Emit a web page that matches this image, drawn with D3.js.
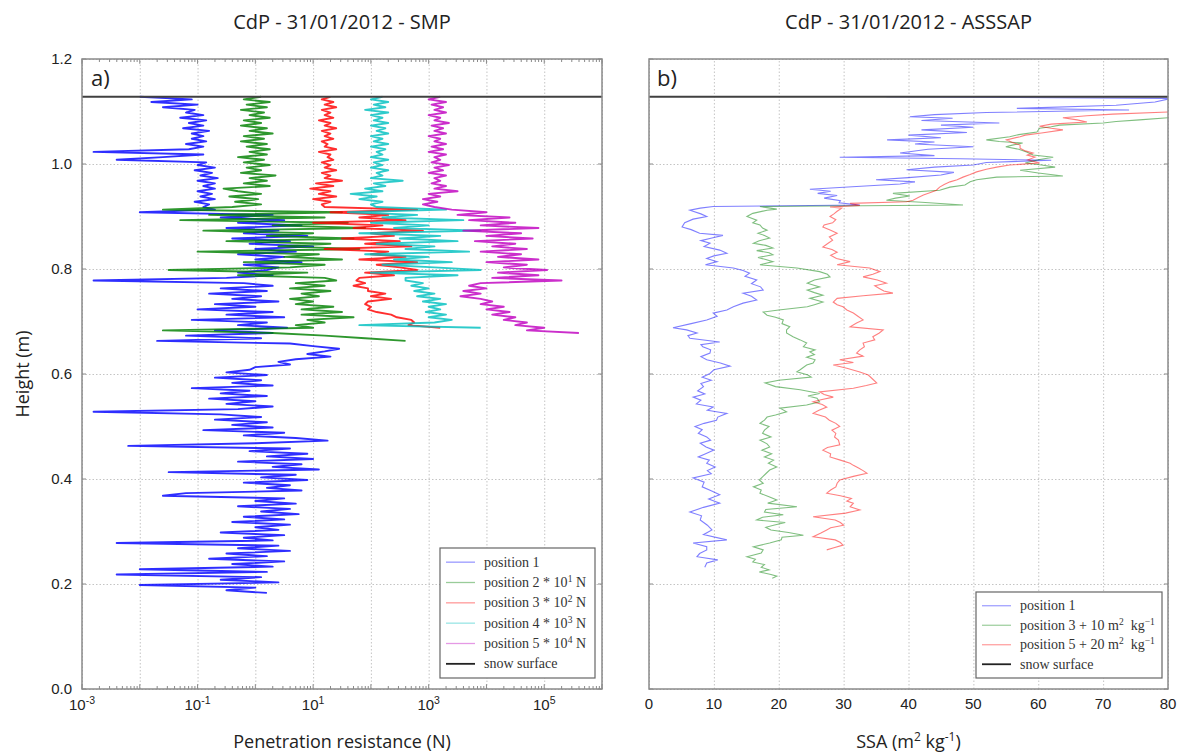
<!DOCTYPE html>
<html>
<head>
<meta charset="utf-8">
<script src="https://cdn.jsdelivr.net/npm/d3@7"></script>
<style>
  body { margin: 0; background: #fff; }
  svg { display: block; }
</style>
</head>
<body>
<svg id="chart" width="1180" height="753"></svg>
<script>

// ---- data ----------------------------------------------------------

// SMP profiles: log10 of penetration resistance (N), one value every 5 mm
// going down from the snow surface
const smpTopHeight = 1.128;
const smpStep = 0.005;

const smpLog1 = [
  -2.0,-1.1,-1.8,-1.0,-1.6,-1.05,
  -1.2,-0.9,-1.3,-0.85,-1.15,-0.9,-1.25,-0.8,-1.1,-0.9,
  -1.1,-0.85,-1.2,-0.9,-1.15,-2.8,-0.9,-1.6,-2.4,-0.85,
  -1.0,-0.7,-1.05,-0.75,-0.95,-0.65,-1.0,-0.7,-0.9,-0.7,
  -1.0,-0.75,-0.95,-0.7,-1.05,-0.8,
  -0.9,-0.7,-2.0,
  0.3,-0.6,0.5,-0.3,0.8,-0.5,0.4,-0.2,0.9,-0.4,0.6,-0.1,1.0,0.0,0.7,-0.3,0.5,0.0,0.8,-0.2,0.4,
  0.2,-0.3,0.3,-0.5,-2.8,
  -0.2,0.3,-0.6,0.2,-0.8,0.1,-0.4,0.4,-0.7,0.0,-1.0,0.3,-0.5,0.5,-1.1,0.2,-0.3,0.55,-0.7,0.3,-1.2,0.1,-1.7,
  0.6,1.0,1.45,1.2,0.9,1.3,0.7,0.4,0.6,0.0,
  -0.1,-0.5,0.2,-0.7,0.1,-0.4,0.3,-1.1,-0.1,-0.6,0.2,-0.8,0.0,-0.5,0.3,-0.3,-2.8,-0.6,0.1,-0.7,0.2,-0.4,0.3,-0.9,
  0.5,-0.2,0.7,1.25,0.0,-2.2,0.6,-0.1,0.9,0.2,
  1.0,-0.3,0.8,0.3,1.1,-1.5,0.7,0.1,0.9,-0.2,
  0.6,0.2,0.8,-1.2,-1.6,0.5,0.0,0.7,-0.3,0.6,
  0.1,0.75,-0.2,0.5,-0.4,0.6,0.0,0.4,-0.6,0.5,
  -0.2,0.3,-2.4,0.4,-0.3,0.6,-0.5,0.2,-0.8,0.5,
  -0.4,0.3,-2.0,0.2,-2.4,0.1,-0.6,0.4,-2.0,0.0,
  -0.5,0.2
];

const smpLog2 = [
  -0.9,-1.2,-0.75,-1.15,-0.8,-1.25,-0.85,-1.1,-0.75,-1.2,-0.9,-1.25,-0.8,-1.1,-0.7,-1.2,-0.85,-1.25,
  -0.8,-1.15,-0.75,-1.1,-0.8,-1.3,-0.85,-1.2,-0.75,-1.15,-0.9,-1.25,-0.65,-1.1,-0.8,-1.2,-0.75,-1.55,
  -1.3,-0.9,-1.45,-0.95,-1.35,-0.9,-1.4,
  -2.6,
  0.5,-1.8,0.2,-2.3,0.6,-0.7,0.9,-1.9,0.0,-0.8,0.7,-1.5,0.3,-0.6,0.8,-2.0,0.1,-0.5,0.5,-1.2,0.2,-0.4,
  -2.5,-0.1,-1.3,0.2,
  0.4,-0.3,0.2,-0.4,0.3,-0.2,0.1,-0.4,0.0,-0.3,0.35,-0.2,
  0.5,-0.2,0.7,-0.1,0.2,-0.3,0.0,-2.6,-0.7,0.2,0.9,1.6
];

const smpLog3 = [
  -0.7,-0.85,-0.65,-0.8,-0.6,-0.85,-0.7,-0.8,-0.65,-0.9,-0.7,-0.8,-0.6,-0.85,-0.7,-0.8,-0.65,-0.85,
  -0.75,-0.8,-0.6,-0.9,-0.7,-0.75,-0.65,-0.85,-0.7,-0.8,-0.6,-0.85,-0.7,-0.8,-0.5,-0.95,-0.65,-1.05,
  -0.7,-0.9,-0.6,-1.0,-0.7,-0.85,
  -0.8,
  0.8,-0.7,0.3,-0.2,0.6,-1.0,0.2,-0.3,0.9,0.0,0.4,-0.5,0.5,-0.1,0.7,-0.8,0.3,0.0,0.6,-0.2,0.8,0.1,0.5,
  0.8,-0.1,0.4,-0.2,
  -0.25,-0.1,-0.3,-0.05,-0.05,0.25,0.0,0.35,-0.05,-0.1,0.0,-0.05,0.1,0.35,0.45,0.7,0.75,0.65,1.2
];

const smpLog4 = [
  -0.8,-1.0,-0.7,-0.95,-0.75,-1.1,-0.7,-1.0,-0.8,-0.95,-0.7,-1.0,-0.75,-0.9,-0.7,-1.0,-0.8,-0.95,
  -0.7,-1.0,-0.75,-0.9,-0.8,-1.0,-0.7,-0.95,-0.8,-1.0,-0.7,-0.9,-0.8,-1.0,-0.45,-0.95,-0.75,-1.1,
  -0.8,-1.35,-0.9,-1.2,-0.8,-1.0,
  -0.9,
  0.3,-1.4,-0.2,-0.8,0.6,-1.0,0.0,-0.6,0.9,-1.2,0.2,-0.5,0.5,-0.9,0.1,-0.4,0.7,-1.1,0.0,-0.6,0.4,-0.8,0.1,
  0.9,-1.0,0.5,-0.4,
  -0.4,-0.1,-0.3,0.0,-0.25,0.1,-0.2,0.2,-0.1,0.3,0.0,0.2,-0.05,0.3,0.0,0.4,0.1,-1.2,0.9
];

const smpLog5 = [
  -0.8,-1.0,-0.7,-0.95,-0.75,-0.9,-0.7,-1.0,-0.8,-0.9,-0.65,-0.95,-0.75,-0.9,-0.7,-1.0,-0.8,-0.9,
  -0.7,-0.95,-0.75,-1.0,-0.7,-0.9,-0.8,-0.95,-0.65,-0.9,-0.75,-1.0,-0.7,-0.9,-0.8,-0.95,-0.7,-0.9,
  -0.5,-1.0,-0.8,-1.1,-0.85,-1.1,
  -0.9,
  -0.6,0.0,-0.5,0.4,-0.3,0.5,-0.1,0.9,-0.4,0.6,0.0,0.8,-0.2,0.5,0.1,0.7,-0.1,0.6,0.2,0.9,0.0,0.7,0.3,
  1.05,0.2,0.9,0.1,1.3,-0.1,
  -0.3,0.0,-0.4,-0.1,-0.45,-0.1,0.1,-0.1,0.3,0.0,0.4,0.1,0.5,0.3,0.7,0.5,1.0,0.7,1.6
];

// multiplication factor applied to each SMP position for display
const smpFactors = [1, 10, 100, 1000, 10000];
const smpColors = ["#0000ff", "#008000", "#ff0000", "#00bfbf", "#bf00bf"];

// ASSSAP profiles: [height (m), SSA (m2 kg-1)]
const ssaPos1 = [
  [1.128,36.6],[1.125,80.5],[1.118,78],[1.112,72],[1.106,56.7],[1.103,74],[1.098,52],[1.094,44],
  [1.09,40.2],[1.087,46.8],[1.083,42],[1.078,54],[1.074,45],[1.07,50],[1.065,42],[1.06,49],[1.055,40],
  [1.05,45],[1.046,36.7],[1.042,44],[1.038,41],[1.033,50],[1.028,43],[1.021,38.7],[1.016,44],
  [1.013,29.4],[1.01,48],[1.007,62],[1.003,52],[0.998,50],[0.994,44],[0.989,39.7],[0.984,47],
  [0.979,45],[0.974,40],[0.97,35],[0.966,41],[0.962,38.7],[0.957,32],[0.952,24.8],[0.948,28],
  [0.944,26],[0.94,29],[0.935,27],[0.93,29.5],[0.926,29.3],[0.922,32.5],[0.919,9.9],[0.916,7.9],
  [0.912,6.3],[0.905,8.0],[0.9,8.9],[0.895,6.8],[0.888,5.5],[0.88,5.1],[0.875,6.5],[0.868,7.8],
  [0.864,11.4],[0.859,9.7],[0.854,8.0],[0.849,9.4],[0.843,8.5],[0.836,10.9],[0.83,12],[0.825,10],
  [0.82,8.9],[0.814,10.5],[0.808,8.7],[0.802,13],[0.797,14.5],[0.792,15.5],[0.786,14.8],[0.779,16.6],
  [0.772,15.8],[0.766,17.2],[0.76,17.6],[0.754,14.5],[0.748,15.8],[0.741,16.6],[0.735,14.5],[0.728,13],
  [0.722,12],[0.716,9.9],[0.71,10.5],[0.703,8.9],[0.696,6.5],[0.688,3.7],[0.684,5.8],[0.678,7.4],
  [0.673,6.0],[0.668,6.3],[0.661,10.9],[0.656,8.0],[0.652,8.3],[0.646,9.5],[0.64,9.4],[0.633,8.0],
  [0.627,8.9],[0.621,11],[0.615,12.5],[0.608,10],[0.601,9.4],[0.594,8.2],[0.588,9.6],[0.582,8.0],
  [0.576,8.4],[0.568,7.5],[0.562,8.6],[0.556,6.8],[0.55,8.0],[0.543,7.3],[0.537,9.9],[0.531,9.0],
  [0.525,12],[0.518,10.6],[0.512,10.4],[0.506,8.5],[0.5,7.1],[0.494,8.2],[0.487,7.6],[0.48,8.9],
  [0.474,9.5],[0.468,7.9],[0.461,8.8],[0.455,10.0],[0.449,8.9],[0.442,7.6],[0.436,9.3],[0.43,8.9],
  [0.423,10.2],[0.416,9.0],[0.41,9.6],[0.402,6.8],[0.394,8.5],[0.385,8.2],[0.378,9.5],[0.37,10.9],
  [0.362,9.2],[0.354,10.9],[0.346,8.4],[0.337,6.3],[0.33,8.1],[0.322,7.9],[0.312,9.0],[0.303,9.7],
  [0.294,8.4],[0.284,12],[0.278,6.8],[0.271,8.9],[0.265,8.9],[0.258,7.8],[0.252,7.4],[0.246,10.6],
  [0.24,8.9],[0.232,8.6]
];

const ssaPos3 = [
  [1.09,72],[1.088,70],[1.084,65.6],[1.081,62],[1.078,60],[1.074,53.3],[1.071,52],[1.068,50.2],
  [1.061,49.8],[1.056,47],[1.052,45.6],[1.046,42],[1.043,44],[1.04,47.6],[1.036,46],[1.033,45],
  [1.028,47],[1.023,48.2],[1.017,49.2],[1.013,52.3],[1.008,50],[1.002,48],[0.998,50.5],[0.994,52.6],
  [0.988,47.2],[0.983,50],[0.977,53.8],[0.975,43.6],[0.97,40.5],[0.966,39.5],[0.96,38.7],[0.956,36.4],
  [0.95,34.8],[0.944,27.6],[0.939,30.2],[0.935,28],[0.931,26.6],[0.927,32],[0.922,38.4],[0.919,7.1],
  [0.914,9.7],[0.912,8.2],[0.906,6],[0.9,5.1],[0.893,6.6],[0.888,6],[0.884,7.1],[0.878,7.5],
  [0.874,8.2],[0.868,6.8],[0.864,7.8],[0.859,8.6],[0.854,7],[0.849,6.1],[0.845,8],[0.84,9.1],
  [0.835,6.6],[0.831,8.5],[0.827,9.1],[0.822,6.8],[0.818,8],[0.814,9.1],[0.808,7.1],[0.802,12.8],
  [0.795,16.3],[0.79,17.5],[0.785,17.9],[0.779,15.5],[0.773,14.4],[0.766,16.3],[0.76,14.4],[0.755,15.5],
  [0.75,16.8],[0.744,14.8],[0.737,16.8],[0.732,15.5],[0.728,14.4],[0.722,10],[0.718,7.6],[0.712,8.2],
  [0.708,9.5],[0.703,10.7],[0.696,10.5],[0.69,11.7],[0.684,11.2],[0.678,11.2],[0.671,12.2],[0.665,13.3],
  [0.659,14.3],[0.652,13.8],[0.646,15.6],[0.642,14.8],[0.637,15.5],[0.632,14.3],[0.627,15.6],[0.621,15.3],
  [0.617,14.3],[0.608,13.3],[0.604,12.8],[0.598,14.5],[0.594,15],[0.588,10],[0.583,7.9],[0.576,9.5],
  [0.57,13.3],[0.563,16.3],[0.558,14.5],[0.554,15.9],[0.547,16.3],[0.541,14.3],[0.535,10.2],[0.528,11.2],
  [0.522,9.5],[0.518,8.2],[0.512,7.8],[0.506,7.1],[0.5,8.5],[0.493,7.8],[0.487,7.5],[0.48,8.8],
  [0.474,7.1],[0.467,8.2],[0.461,8.6],[0.455,7.4],[0.448,8.9],[0.442,7.8],[0.436,9.2],[0.43,8.4],
  [0.423,9.7],[0.417,8.6],[0.41,8],[0.404,7.5],[0.398,7],[0.392,7.6],[0.385,6.1],[0.379,7.3],
  [0.373,7.1],[0.366,8.5],[0.36,9.7],[0.354,8.3],[0.347,12.8],[0.342,8],[0.337,7.8],[0.332,10.7],
  [0.327,7.5],[0.322,6.6],[0.317,11],[0.312,9.2],[0.308,8],[0.303,8.8],[0.298,11.5],[0.293,13.8],
  [0.289,10.5],[0.284,10.4],[0.278,8.6],[0.271,6.1],[0.265,7.6],[0.259,7.3],[0.252,5.1],[0.247,6.4],
  [0.242,6],[0.237,7.8],[0.232,7.3],[0.227,8.5],[0.223,7],[0.218,8.8],[0.215,9.7],[0.211,9]
];

const ssaPos5 = [
  [1.1,62],[1.099,60],[1.095,51.5],[1.092,47.5],[1.088,43.8],[1.084,46],[1.08,47.5],[1.076,42],
  [1.072,40.2],[1.068,42],[1.065,43.8],[1.059,40.5],[1.055,38],[1.052,37.2],[1.046,35.1],[1.041,36],
  [1.036,37.2],[1.03,37.2],[1.025,38],[1.021,39.2],[1.017,38.3],[1.013,39.5],[1.008,38.4],[1.002,40.2],
  [0.998,35.6],[0.994,33.6],[0.99,32],[0.985,30.5],[0.98,29.5],[0.975,28.4],[0.97,27.5],[0.966,26.4],
  [0.961,25.5],[0.956,24.8],[0.95,24.3],[0.946,23.5],[0.941,22.3],[0.936,21.5],[0.931,20.7],[0.928,19.7],
  [0.925,11],[0.921,12.5],[0.918,7.9],[0.916,9.7],[0.91,9],[0.905,8.5],[0.9,7.9],[0.894,8.8],
  [0.888,8.3],[0.884,7],[0.88,6.8],[0.874,8],[0.868,9],[0.861,7.8],[0.855,8.3],[0.848,7.5],
  [0.842,6.8],[0.837,8.2],[0.832,9],[0.826,8],[0.82,8.9],[0.814,11],[0.808,9],[0.802,14],
  [0.795,15.6],[0.79,14.5],[0.785,13],[0.779,15.2],[0.773,16.6],[0.768,14.8],[0.763,15.5],[0.758,16.2],
  [0.754,17.6],[0.749,13],[0.744,9],[0.737,8.4],[0.732,9],[0.728,9.9],[0.722,10.5],[0.716,11.5],
  [0.71,12.2],[0.703,13],[0.697,12],[0.69,11],[0.684,16.1],[0.678,15.5],[0.671,14.5],[0.665,14.8],
  [0.659,13],[0.652,13.2],[0.646,12.5],[0.64,12],[0.634,13],[0.627,9.4],[0.622,11.5],[0.617,8.4],
  [0.611,10.5],[0.604,12.5],[0.598,13.8],[0.59,14.5],[0.583,15.1],[0.578,13.5],[0.573,11.5],[0.566,6.3],
  [0.561,7],[0.556,8.4],[0.551,6.5],[0.547,5.3],[0.542,6.7],[0.537,7.4],[0.531,6.2],[0.525,5.3],
  [0.518,7.2],[0.512,7.8],[0.506,8.8],[0.5,9.4],[0.493,8.2],[0.487,8.8],[0.48,8.6],[0.474,9.2],
  [0.465,9.4],[0.46,7.5],[0.455,6.8],[0.448,8],[0.442,7.9],[0.436,9.5],[0.43,11],[0.426,11.5],
  [0.421,12.3],[0.416,13],[0.411,13.6],[0.405,11.5],[0.398,9.4],[0.392,9],[0.385,8.8],[0.379,8],
  [0.373,7.4],[0.368,9.5],[0.363,11.2],[0.358,10.5],[0.354,11.5],[0.347,11],[0.341,12.5],[0.335,10.3],
  [0.328,5.3],[0.322,8.7],[0.317,9.5],[0.312,10],[0.307,8],[0.303,7.4],[0.297,6.5],[0.29,5.3],
  [0.284,8.7],[0.279,9.5],[0.274,9.9],[0.269,8.5],[0.265,7.4]
];

// offsets added to the ASSSAP positions for display
const ssaOffsets = [0, 10, 20];
const ssaColors = ["#0000ff", "#008000", "#ff0000"];

const snowSurface = 1.128;

// axis ticks
const heightTicks = [0, 0.2, 0.4, 0.6, 0.8, 1.0, 1.2];
const resDecades = [-3, -2, -1, 0, 1, 2, 3, 4, 5, 6];
const resLabelExp = [-3, -1, 1, 3, 5];
const ssaTicks = [0, 10, 20, 30, 40, 50, 60, 70, 80];

// ---- layout --------------------------------------------------------

const svg = d3.select("#chart");
const plotTop = 59, plotBottom = 689;
const panelA = {left: 82, right: 602};
const panelB = {left: 649, right: 1168};

const sansFont = "'Liberation Sans', Arial, sans-serif";
const titleFont = "'Open Sans', 'Noto Sans', sans-serif";
const legendFont = "'Liberation Serif', 'DejaVu Serif', serif";

const y = d3.scaleLinear().domain([0, 1.2]).range([plotBottom, plotTop]);
const xA = d3.scaleLog().domain([1e-3, 1e6]).range([panelA.left, panelA.right]);
const xB = d3.scaleLinear().domain([0, 80]).range([panelB.left, panelB.right]);

const defs = svg.append("defs");

/* 枠、格子を描く */
function drawFrame(panel, x, gridVals, id) {
  const w = panel.right - panel.left;
  const h = plotBottom - plotTop;

  defs.append("clipPath").attr("id", id)
    .append("rect")
    .attr("x", panel.left).attr("y", plotTop)
    .attr("width", w).attr("height", h);

  const g = svg.append("g");

  // vertical grid
  g.append("g")
    .attr("transform", `translate(0,${plotBottom})`)
    .call(d3.axisBottom(x).tickValues(gridVals).tickSize(-h).tickFormat(""))
    .call(a => a.select(".domain").remove())
    .selectAll("line")
    .attr("stroke", "#c4c4c4")
    .attr("stroke-dasharray", "1.5,2");

  // horizontal grid
  g.append("g")
    .attr("transform", `translate(${panel.left},0)`)
    .call(d3.axisLeft(y).tickValues(heightTicks).tickSize(-w).tickFormat(""))
    .call(a => a.select(".domain").remove())
    .selectAll("line")
    .attr("stroke", "#c4c4c4")
    .attr("stroke-dasharray", "1.5,2");

  return g;
}

drawFrame(panelA, xA, resDecades.map(e => Math.pow(10, e)), "clipA");
drawFrame(panelB, xB, ssaTicks, "clipB");

// ---- panel a: SMP --------------------------------------------------

const lineA = d3.line()
  .x(d => xA(d.v))
  .y(d => y(d.h));

const smpLogs = [smpLog1, smpLog2, smpLog3, smpLog4, smpLog5];
const gA = svg.append("g").attr("clip-path", "url(#clipA)");

smpLogs.forEach((vals, k) => {
  const pts = vals.map((v, i) => ({
    h: smpTopHeight - i * smpStep,
    v: Math.pow(10, v) * smpFactors[k]
  }));
  gA.append("path")
    .datum(pts)
    .attr("d", lineA)
    .attr("fill", "none")
    .attr("stroke", smpColors[k])
    .attr("stroke-width", 1.9)
    .attr("stroke-opacity", 0.82)
    .attr("stroke-linejoin", "round");
});

// ---- panel b: ASSSAP -----------------------------------------------

const lineB = d3.line()
  .x(d => xB(d.v))
  .y(d => y(d.h));

const ssaProfiles = [ssaPos1, ssaPos3, ssaPos5];
const gB = svg.append("g").attr("clip-path", "url(#clipB)");

ssaProfiles.forEach((prof, k) => {
  const pts = prof.map(p => ({h: p[0], v: p[1] + ssaOffsets[k]}));
  gB.append("path")
    .datum(pts)
    .attr("d", lineB)
    .attr("fill", "none")
    .attr("stroke", ssaColors[k])
    .attr("stroke-width", 1.1)
    .attr("stroke-opacity", 0.5);
});

// ---- frames, snow surface, ticks ----------------------------------

[panelA, panelB].forEach(p => {
  svg.append("line")
    .attr("x1", p.left).attr("x2", p.right)
    .attr("y1", y(snowSurface)).attr("y2", y(snowSurface))
    .attr("stroke", "#404040")
    .attr("stroke-width", 2);

  svg.append("rect")
    .attr("x", p.left).attr("y", plotTop)
    .attr("width", p.right - p.left).attr("height", plotBottom - plotTop)
    .attr("fill", "none")
    .attr("stroke", "#8a8a8a")
    .attr("stroke-width", 1.5);

  // inner ticks on the height axis, both sides
  heightTicks.forEach(t => {
    [[p.left, 4], [p.right, -4]].forEach(([x0, d]) => {
      svg.append("line")
        .attr("x1", x0).attr("x2", x0 + d)
        .attr("y1", y(t)).attr("y2", y(t))
        .attr("stroke", "#8a8a8a");
    });
  });
});

// minor ticks of the log axis
const minorTicks = xA.ticks().filter(v => Math.abs(Math.log10(v) - Math.round(Math.log10(v))) > 1e-6);
[[plotBottom, -3], [plotTop, 3]].forEach(([y0, d]) => {
  svg.append("g")
    .selectAll("line")
    .data(minorTicks)
    .join("line")
    .attr("x1", v => xA(v)).attr("x2", v => xA(v))
    .attr("y1", y0).attr("y2", y0 + d)
    .attr("stroke", "#8a8a8a");
  svg.append("g")
    .selectAll("line")
    .data(resDecades)
    .join("line")
    .attr("x1", e => xA(Math.pow(10, e))).attr("x2", e => xA(Math.pow(10, e)))
    .attr("y1", y0).attr("y2", y0 + 1.6 * d)
    .attr("stroke", "#8a8a8a");
});

// ---- tick labels ---------------------------------------------------

svg.append("g")
  .selectAll("text")
  .data(heightTicks)
  .join("text")
  .attr("x", 72)
  .attr("y", d => y(d))
  .attr("dy", "0.35em")
  .attr("text-anchor", "end")
  .attr("font-family", sansFont)
  .attr("font-size", 15)
  .attr("fill", "#222")
  .text(d => d.toFixed(1));

const resLab = svg.append("g")
  .selectAll("text")
  .data(resLabelExp)
  .join("text")
  .attr("x", e => xA(Math.pow(10, e)))
  .attr("y", 710)
  .attr("text-anchor", "middle")
  .attr("font-family", sansFont)
  .attr("font-size", 15)
  .attr("fill", "#222");
resLab.append("tspan").text("10");
resLab.append("tspan")
  .attr("dy", -6)
  .attr("font-size", 10.5)
  .text(e => e < 0 ? "-" + (-e) : String(e));

svg.append("g")
  .selectAll("text")
  .data(ssaTicks)
  .join("text")
  .attr("x", d => xB(d))
  .attr("y", 709)
  .attr("text-anchor", "middle")
  .attr("font-family", sansFont)
  .attr("font-size", 15)
  .attr("fill", "#222")
  .text(d => d);

// ---- titles and axis labels ----------------------------------------

const midA = (panelA.left + panelA.right) / 2;
const midB = (panelB.left + panelB.right) / 2;

svg.append("text")
  .attr("x", midA).attr("y", 29)
  .attr("text-anchor", "middle")
  .attr("font-family", titleFont).attr("font-size", 20)
  .attr("fill", "#222")
  .text("CdP - 31/01/2012 - SMP");

svg.append("text")
  .attr("x", midB).attr("y", 29)
  .attr("text-anchor", "middle")
  .attr("font-family", titleFont).attr("font-size", 20)
  .attr("fill", "#222")
  .text("CdP - 31/01/2012 - ASSSAP");

svg.append("text")
  .attr("x", 91).attr("y", 86)
  .attr("font-family", titleFont).attr("font-size", 22)
  .attr("fill", "#222")
  .text("a)");

svg.append("text")
  .attr("x", 657).attr("y", 86)
  .attr("font-family", titleFont).attr("font-size", 22)
  .attr("fill", "#222")
  .text("b)");

svg.append("text")
  .attr("x", midA).attr("y", 748)
  .attr("text-anchor", "middle")
  .attr("font-family", titleFont).attr("font-size", 18)
  .attr("fill", "#222")
  .text("Penetration resistance (N)");

const ssaLabel = svg.append("text")
  .attr("x", midB).attr("y", 748)
  .attr("text-anchor", "middle")
  .attr("font-family", titleFont).attr("font-size", 18)
  .attr("fill", "#222");
ssaLabel.append("tspan").text("SSA (m");
ssaLabel.append("tspan").attr("dy", -7).attr("font-size", 12).text("2");
ssaLabel.append("tspan").attr("dy", 7).text(" kg");
ssaLabel.append("tspan").attr("dy", -7).attr("font-size", 12).text("-1");
ssaLabel.append("tspan").attr("dy", 7).text(")");

svg.append("text")
  .attr("transform", `translate(29,${(plotTop + plotBottom) / 2}) rotate(-90)`)
  .attr("text-anchor", "middle")
  .attr("font-family", titleFont).attr("font-size", 18)
  .attr("fill", "#222")
  .text("Height (m)");

// ---- legends -------------------------------------------------------

/* 凡例を描く */
function drawLegend(x0, y0, w, h, rows, sampleW, textX) {
  const g = svg.append("g");
  g.append("rect")
    .attr("x", x0).attr("y", y0)
    .attr("width", w).attr("height", h)
    .attr("fill", "#fff")
    .attr("stroke", "#666")
    .attr("stroke-width", 1.2);
  const rowH = (h - 8) / rows.length;
  rows.forEach((r, i) => {
    const yy = y0 + 4 + rowH * (i + 0.5);
    g.append("line")
      .attr("x1", x0 + 6).attr("x2", x0 + 6 + sampleW)
      .attr("y1", yy).attr("y2", yy)
      .attr("stroke", r.color)
      .attr("stroke-opacity", r.opacity)
      .attr("stroke-width", r.width);
    const t = g.append("text")
      .attr("x", x0 + textX).attr("y", yy + 4.5)
      .attr("font-family", legendFont)
      .attr("font-size", 14)
      .attr("fill", "#333");
    r.parts.forEach(p => {
      const sp = t.append("tspan").text(p[0]);
      if (p[1] === "sup") sp.attr("dy", -5).attr("font-size", 9.5);
      if (p[1] === "down") sp.attr("dy", 5);
    });
  });
}

const legendA = [
  {color: smpColors[0], opacity: 0.4, width: 1.3, parts: [["position 1"]]},
  {color: smpColors[1], opacity: 0.4, width: 1.3, parts: [["position 2 * 10"], ["1", "sup"], [" N", "down"]]},
  {color: smpColors[2], opacity: 0.4, width: 1.3, parts: [["position 3 * 10"], ["2", "sup"], [" N", "down"]]},
  {color: smpColors[3], opacity: 0.4, width: 1.3, parts: [["position 4 * 10"], ["3", "sup"], [" N", "down"]]},
  {color: smpColors[4], opacity: 0.4, width: 1.3, parts: [["position 5 * 10"], ["4", "sup"], [" N", "down"]]},
  {color: "#222", opacity: 1, width: 1.8, parts: [["snow surface"]]}
];
drawLegend(440, 548, 155, 130, legendA, 29, 44);

const legendB = [
  {color: ssaColors[0], opacity: 0.4, width: 1.2, parts: [["position 1"]]},
  {color: ssaColors[1], opacity: 0.4, width: 1.2,
    parts: [["position 3 + " + ssaOffsets[1] + " m"], ["2", "sup"], ["\u00a0\u00a0kg", "down"], ["\u22121", "sup"]]},
  {color: ssaColors[2], opacity: 0.4, width: 1.2,
    parts: [["position 5 + " + ssaOffsets[2] + " m"], ["2", "sup"], ["\u00a0\u00a0kg", "down"], ["\u22121", "sup"]]},
  {color: "#222", opacity: 1, width: 1.8, parts: [["snow surface"]]}
];
drawLegend(976, 592, 186, 86, legendB, 29, 44);

</script>
</body>
</html>
